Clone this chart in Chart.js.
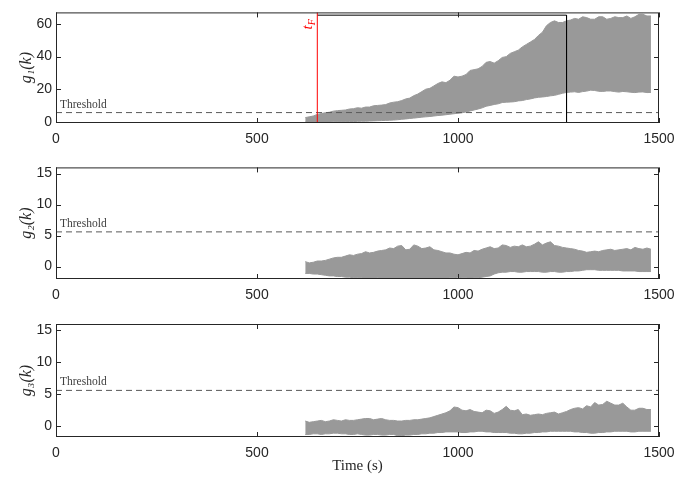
<!DOCTYPE html>
<html>
<head>
<meta charset="utf-8">
<script src="https://cdn.jsdelivr.net/npm/chart.js@4"></script>
<style>
  body { margin: 0; background: #fff; width: 697px; height: 478px; position: relative; overflow: hidden; }
  .panel { position: absolute; left: 0; width: 697px; }
</style>
</head>
<body>
<div class="panel" style="top:0;height:150px"><canvas id="g1"></canvas></div>
<div class="panel" style="top:155px;height:150px"><canvas id="g2"></canvas></div>
<div class="panel" style="top:310px;height:168px"><canvas id="g3"></canvas></div>
<script>
// sample times (s)
const time = [
  620,630,640,650,660,670,680,690,700,710,
  720,730,740,750,760,770,780,790,800,810,
  820,830,840,850,860,870,880,890,900,910,
  920,930,940,950,960,970,980,990,1000,1010,
  1020,1030,1040,1050,1060,1070,1080,1090,1100,1110,
  1120,1130,1140,1150,1160,1170,1180,1190,1200,1210,
  1220,1230,1240,1250,1260,1270,1280,1290,1300,1310,
  1320,1330,1340,1350,1360,1370,1380,1390,1400,1410,
  1420,1430,1440,1450,1460,1470,1480];

// upper / lower edge of each grey band
const g1Upper = [
  2.5,3,3.5,4.5,5,5.5,5.8,6.5,6.8,7,
  7.2,7.8,8,8.6,8.3,9,9,9.8,10,10.2,
  10.5,11.5,12,12.3,13,14,14.5,16,17,18.5,
  20,20.5,22,23.5,24.5,24,25.5,28,27.5,28,
  29,31.5,32,32.5,34,36.5,37,36,37.5,39.5,
  40,42,43,44,46,47.5,49,50.5,53,55,
  59,61,62,61,61,62,62.5,63.5,63,64.5,
  64,63,63,64.5,64.5,63,63.5,64.5,64,64,
  65,63.5,64.5,66,66,65,65];
const g1Lower = [
  -0.3,-0.3,-0.3,-0.3,-0.2,-0.2,-0.2,-0.1,0,0,
  0,0.1,0.1,0.2,0.3,0.3,0.4,0.5,0.6,0.7,
  0.8,0.9,1,1.2,1.5,1.7,2,2.2,2.5,2.8,
  3,3.2,3.5,3.8,4,4.3,4.6,4.9,5.2,5.5,
  6,6.6,7.2,7.8,8.5,9.5,10,10.6,11,11.8,
  12,12.1,12.3,12.8,13,13.6,14,14.6,15,15.2,
  15.5,15.9,16.2,16.8,17.5,18,18.2,18.4,18,18.5,
  18.8,19.4,19.2,18.7,18.6,18.9,18.9,18.5,18.2,18.6,
  18.4,18.1,17.9,18.2,18.3,17.9,18];

const g2Upper = [
  0.8,0.6,0.7,0.9,0.9,1.0,1.2,1.4,1.5,1.5,
  1.7,1.9,1.8,2.0,2.1,2.4,2.2,2.3,2.5,2.6,
  2.7,3.0,2.9,3.3,3.4,2.7,2.8,3.5,3.3,2.9,
  3.0,3.2,2.7,2.6,2.4,2.2,2.2,2.0,1.9,2.1,
  2.3,2.2,2.6,2.5,2.8,3.0,3.2,2.9,3.0,3.5,
  3.4,3.1,3.3,3.2,3.5,3.2,3.3,3.6,4.0,3.5,
  3.8,4.0,3.4,3.3,3.1,3.0,2.9,2.8,2.6,2.5,
  2.3,2.4,2.5,2.4,2.6,2.7,2.8,2.6,2.7,2.8,
  2.9,2.7,3.1,2.9,2.8,3.0,2.8];
const g2Lower = [
  -1.1,-1.1,-1.2,-1.2,-1.3,-1.4,-1.5,-1.5,-1.6,-1.6,
  -1.7,-1.7,-1.8,-1.8,-1.8,-1.9,-1.9,-1.9,-1.8,-1.9,
  -1.9,-2,-2,-2,-2,-2,-2,-2,-2,-2,
  -2,-2,-2,-2,-1.9,-1.9,-1.8,-1.8,-1.7,-1.8,
  -1.8,-1.9,-1.8,-1.8,-1.7,-1.6,-1.5,-1.2,-1.0,-0.9,
  -0.9,-0.8,-0.8,-0.9,-0.9,-0.8,-0.8,-0.8,-0.8,-0.9,
  -0.9,-0.8,-0.8,-0.9,-0.9,-0.8,-0.8,-0.7,-0.7,-0.6,
  -0.5,-0.5,-0.5,-0.6,-0.6,-0.6,-0.6,-0.6,-0.6,-0.7,
  -0.7,-0.7,-0.7,-0.8,-0.8,-0.8,-0.8];

const g3Upper = [
  0.8,0.6,0.7,0.8,0.9,0.7,0.8,1.0,0.9,0.8,
  1.0,0.9,0.9,1.0,1.1,1.2,1.2,1.0,1.1,1.2,
  1.0,0.9,0.9,0.8,0.8,0.9,0.9,1.0,1.0,1.1,
  1.2,1.3,1.5,1.7,1.9,2.1,2.4,3.0,2.9,2.5,
  2.4,2.6,2.3,2.2,2.1,2.5,2.4,2.0,2.2,2.6,
  3.1,2.5,2.4,2.6,1.8,1.9,1.7,1.8,1.9,1.8,
  2.0,2.1,2.2,1.9,2.1,2.3,2.6,2.8,2.9,2.7,
  3.2,3.0,3.7,3.3,3.4,3.9,3.6,3.3,3.3,3.6,
  3.0,2.5,2.5,2.8,2.8,2.6,2.6];
const g3Lower = [
  -1.3,-1.3,-1.2,-1.2,-1.3,-1.2,-1.2,-1.1,-1.1,-1.2,
  -1.2,-1.3,-1.3,-1.2,-1.3,-1.4,-1.4,-1.3,-1.3,-1.4,
  -1.4,-1.3,-1.3,-1.5,-1.5,-1.4,-1.4,-1.3,-1.3,-1.2,
  -1.2,-1.1,-1.1,-1.0,-1.0,-0.9,-0.9,-0.9,-0.9,-1.0,
  -1.0,-0.9,-0.9,-0.8,-0.8,-0.9,-0.9,-1.0,-1.0,-1.0,
  -1.0,-1.1,-1.1,-1.2,-1.2,-1.1,-1.1,-1.0,-1.0,-0.9,
  -0.9,-0.8,-0.8,-0.8,-0.8,-0.8,-0.8,-0.9,-0.9,-1.0,
  -1.0,-1.1,-1.1,-1.0,-1.0,-0.9,-0.9,-0.8,-0.8,-0.8,
  -0.8,-0.9,-0.9,-0.8,-0.8,-0.8,-0.8];

const threshold = 5.6;
const faultTime = 650;          // t_F
const windowEnd = 1270;         // end of the boxed window
const windowTop = 65.5;

const xTicks = [0, 500, 1000, 1500];
const g1Ticks = [0, 20, 40, 60];
const g23Ticks = [0, 5, 10, 15];

const axisColor = '#262626';
const bandColor = '#999999';

const pts = (xs, ys) => xs.map((x, i) => ({ x: x, y: ys[i] }));

// box around the axes, inward tick marks, threshold label
const frame = {
  id: 'frame',
  afterDatasetsDraw(chart) {
    const { ctx, chartArea: a, scales: { x, y } } = chart;
    ctx.save();
    ctx.strokeStyle = axisColor;
    ctx.lineWidth = 1;
    ctx.strokeRect(a.left + 0.5, a.top + 0.5, a.width - 1, a.height - 1);
    ctx.beginPath();
    x.ticks.forEach(t => {
      const px = Math.round(x.getPixelForValue(t.value)) + 0.5;
      ctx.moveTo(px, a.top); ctx.lineTo(px, a.top + 5);
      ctx.moveTo(px, a.bottom); ctx.lineTo(px, a.bottom - 5);
    });
    y.ticks.forEach(t => {
      const py = Math.round(y.getPixelForValue(t.value)) + 0.5;
      ctx.moveTo(a.left, py); ctx.lineTo(a.left + 5, py);
      ctx.moveTo(a.right, py); ctx.lineTo(a.right - 5, py);
    });
    ctx.stroke();
    ctx.fillStyle = '#404040';
    ctx.font = '11.5px "Liberation Serif"';
    ctx.textBaseline = 'alphabetic';
    ctx.fillText('Threshold', x.getPixelForValue(10), y.getPixelForValue(threshold) - 5);
    ctx.restore();
  }
};

// red t_F label next to the fault line
const faultLabel = {
  id: 'faultLabel',
  afterDatasetsDraw(chart) {
    const { ctx, chartArea: a, scales: { x } } = chart;
    ctx.save();
    ctx.translate(x.getPixelForValue(faultTime) - 5, a.top + 17);
    ctx.rotate(-Math.PI / 2);
    ctx.fillStyle = '#ff0000';
    ctx.font = 'italic 15px "Liberation Serif"';
    ctx.fillText('t', 0, 0);
    const w = ctx.measureText('t').width;
    ctx.font = 'italic 10px "Liberation Serif"';
    ctx.fillText('F', w, 3);
    ctx.restore();
  }
};

function makeChart(id, upper, lower, yMin, yMax, yTicks, yTitle, top, xHeight, extra) {
  const datasets = (extra ? extra : []).concat([
    { data: pts([0, 1500], [threshold, threshold]), borderColor: '#595959', borderWidth: 1,
      borderDash: [6, 4], pointRadius: 0, fill: false },
    { data: pts(time, upper), borderColor: bandColor, backgroundColor: bandColor, borderWidth: 1,
      pointRadius: 0, fill: '+1' },
    { data: pts(time, lower), borderColor: bandColor, borderWidth: 1, pointRadius: 0, fill: false }
  ]);
  const isLast = id === 'g3';
  const tickFont = { family: 'Liberation Sans', size: 14 };
  return new Chart(document.getElementById(id), {
    type: 'line',
    data: { datasets: datasets },
    options: {
      responsive: true,
      maintainAspectRatio: false,
      animation: false,
      layout: { padding: { top: top, right: 38, left: 0, bottom: 0 } },
      plugins: { legend: { display: false }, tooltip: { enabled: false } },
      scales: {
        x: {
          type: 'linear', min: 0, max: 1500,
          afterFit: s => { s.height = xHeight; },
          afterBuildTicks: s => { s.ticks = xTicks.map(v => ({ value: v })); },
          grid: { display: false, drawTicks: false },
          border: { display: false },
          ticks: { color: axisColor, font: tickFont, padding: 8, maxRotation: 0, autoSkip: false,
                   callback: v => String(v) },
          title: { display: isLast, text: 'Time (s)', color: axisColor,
                   font: { family: 'Liberation Serif', size: 15 }, padding: { bottom: 3 } }
        },
        y: {
          min: yMin, max: yMax,
          afterFit: s => { s.width = 56; },
          afterBuildTicks: s => { s.ticks = yTicks.map(v => ({ value: v })); },
          grid: { display: false, drawTicks: false },
          border: { display: false },
          ticks: { color: axisColor, font: tickFont, padding: 4, callback: v => String(v) },
          title: { display: true, text: yTitle, color: axisColor,
                   font: { family: 'Liberation Serif', style: 'italic', size: 16 }, padding: { top: 17 } }
        }
      }
    },
    plugins: extra ? [frame, faultLabel] : [frame]
  });
}

const g1Extra = [
  { data: pts([faultTime, faultTime], [-5, 70]), borderColor: '#ff0000', borderWidth: 1, pointRadius: 0, fill: false },
  { data: pts([faultTime, windowEnd, windowEnd], [windowTop, windowTop, -0.8]),
    borderColor: '#000000', borderWidth: 1, pointRadius: 0, fill: false }
];

makeChart('g1', g1Upper, g1Lower, -0.8, 67.2, g1Ticks, 'g₁(k)', 10, 27, g1Extra);
makeChart('g2', g2Upper, g2Lower, -2, 16, g23Ticks, 'g₂(k)', 12, 26, null);
makeChart('g3', g3Upper, g3Lower, -1.7, 16, g23Ticks, 'g₃(k)', 14, 41, null);
</script>
</body>
</html>
